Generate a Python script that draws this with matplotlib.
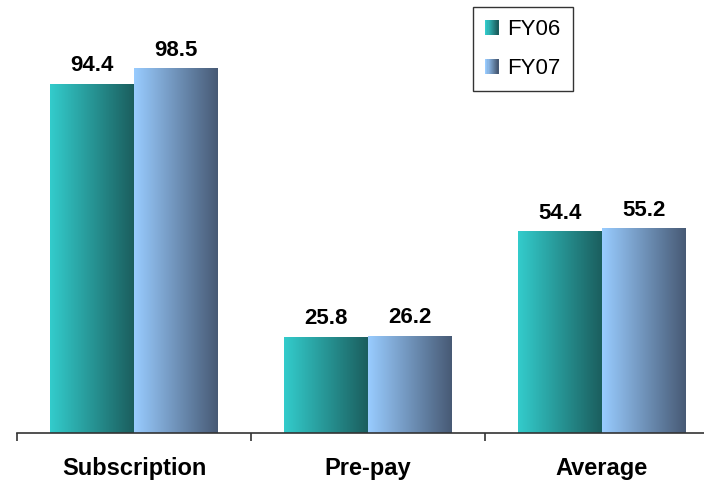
import numpy as np
import matplotlib
matplotlib.use("Agg")
import matplotlib.pyplot as plt
from matplotlib.patches import Rectangle
from matplotlib.legend_handler import HandlerBase
from matplotlib.colors import LinearSegmentedColormap

categories = ["Subscription", "Pre-pay", "Average"]
series_names = ["FY06", "FY07"]
fy06 = [94.4, 25.8, 54.4]
fy07 = [98.5, 26.2, 55.2]

grad_colors = {
    "FY06": ("#33CCCC", "#1B5E5E"),
    "FY07": ("#99CCFF", "#475A75"),
}

plt.rcParams["font.family"] = ["Liberation Sans", "DejaVu Sans"]

W, H = 704, 484
fig = plt.figure(figsize=(W / 100, H / 100), dpi=100)
ax = fig.add_axes([17 / W, 51 / H, 702 / W, 410 / H])
ax.set_xlim(-0.5, 2.5)
ax.set_ylim(0, 410 / 3.697)

x = np.arange(len(categories))
bw = 84 / 234
grad = np.linspace(0, 1, 256).reshape(1, -1)

for vals, name, off in [(fy06, "FY06", -bw / 2), (fy07, "FY07", bw / 2)]:
    bars = ax.bar(x + off, vals, width=bw, color="none", edgecolor="none")
    cmap = LinearSegmentedColormap.from_list(name, grad_colors[name])
    for b, v in zip(bars, vals):
        x0, y0 = b.get_x(), b.get_y()
        ax.imshow(grad, cmap=cmap, aspect="auto",
                  extent=[x0, x0 + b.get_width(), y0, y0 + b.get_height()],
                  zorder=2, interpolation="bilinear")
        ax.annotate(f"{v:.1f}", (x0 + b.get_width() / 2, v), xytext=(0, 9.5),
                    textcoords="offset points", ha="center", va="baseline",
                    fontsize=16, fontweight="bold")

ax.set_xlim(-0.5, 2.5)
ax.set_ylim(0, 410 / 3.697)

for s in ["top", "right", "left"]:
    ax.spines[s].set_visible(False)
ax.spines["bottom"].set_color("#333333")
ax.spines["bottom"].set_linewidth(1.2)
ax.set_yticks([])
ax.set_xticks([-0.5, 0.5, 1.5, 2.5])
ax.set_xticklabels([])
ax.tick_params(axis="x", direction="out", length=6, width=1.2, color="#333333")
ax.set_xticks(x, minor=True)
ax.set_xticklabels(categories, minor=True, fontsize=17, fontweight="bold")
ax.tick_params(axis="x", which="minor", length=0, pad=17)


class GradHandler(HandlerBase):
    def __init__(self, c0, c1):
        super().__init__()
        self.c0, self.c1 = c0, c1

    def create_artists(self, legend, orig_handle, xdescent, ydescent,
                       width, height, fontsize, trans):
        cmap = LinearSegmentedColormap.from_list("h", [self.c0, self.c1])
        n = 12
        w = width
        h = height
        x0 = -xdescent
        y0 = -ydescent
        arts = []
        for i in range(n):
            r = Rectangle((x0 + w * i / n, y0), w / n + 0.3, h,
                          facecolor=cmap(i / (n - 1)), edgecolor="none",
                          transform=trans)
            arts.append(r)
        return arts


h1 = Rectangle((0, 0), 1, 1)
h2 = Rectangle((0, 0), 1, 1)
leg = fig.legend([h1, h2], series_names,
                 handler_map={h1: GradHandler(*grad_colors["FY06"]),
                              h2: GradHandler(*grad_colors["FY07"])},
                 loc="upper left", bbox_to_anchor=(473 / W, 1 - 7 / H),
                 frameon=True, fancybox=False, fontsize=16,
                 handlelength=0.6, handleheight=0.65, handletextpad=0.4,
                 labelspacing=0.8, borderpad=0.55, borderaxespad=0)
leg.get_frame().set_edgecolor("black")
leg.get_frame().set_linewidth(1.0)

fig.savefig("out.png", dpi=100)
